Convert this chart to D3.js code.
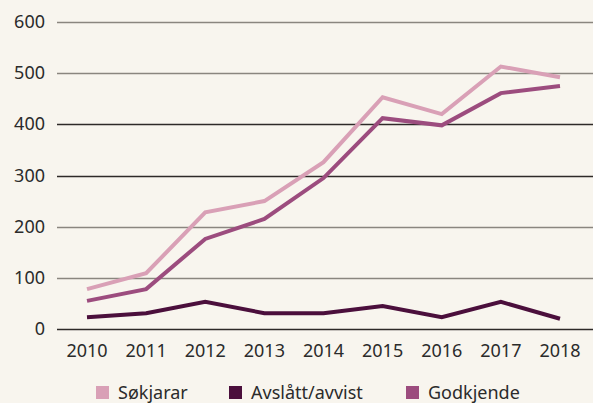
<!DOCTYPE html>
<html>
<head>
<meta charset="utf-8">
<script src="https://cdn.jsdelivr.net/npm/d3@7"></script>
<style>
  body { margin: 0; background: #f8f5ee; }
  svg { display: block; font-family: "Noto Sans", sans-serif; }
</style>
</head>
<body>
<div id="chart"></div>
<script>
const years = [2010, 2011, 2012, 2013, 2014, 2015, 2016, 2017, 2018]
const sokjarar = [78, 109, 228, 250, 326, 453, 420, 513, 492]
const avslatt = [23, 31, 53, 31, 31, 45, 23, 53, 20]
const godkjende = [55, 78, 176, 215, 295, 412, 398, 461, 475]
const yTicks = [0, 100, 200, 300, 400, 500, 600]
const seriesNames = ['Søkjarar', 'Avslått/avvist', 'Godkjende']
const seriesColors = ['#d9a0b6', '#4b0f3c', '#9c4c7e']

const width = 593, height = 403
const svg = d3.select('#chart').append('svg')
    .attr('width', width)
    .attr('height', height)

svg.append('rect').attr('width', width).attr('height', height).attr('fill', '#f8f5ee')

const x = d3.scalePoint().domain(years).range([87, 560])
const y = d3.scaleLinear().domain([0, 600]).range([329, 22])

// gridlines
const grid = svg.append('g')
grid.selectAll('line')
    .data(yTicks)
    .enter()
    .append('line')
    .attr('x1', 57)
    .attr('x2', width)
    .attr('y1', d => Math.round(y(d)) + 0.5)
    .attr('y2', d => Math.round(y(d)) + 0.5)
    .attr('stroke', d => (d === 0 || d === 300 || d === 400) ? '#2e2a28' : '#8a867f')
    .attr('stroke-width', 1.3)

// y labels
svg.append('g').selectAll('text')
    .data(yTicks)
    .enter()
    .append('text')
    .attr('x', 45)
    .attr('y', d => y(d) + 6)
    .attr('text-anchor', 'end')
    .attr('font-size', 18)
    .attr('fill', '#2b2b2b')
    .text(d => d)

// x labels
svg.append('g').selectAll('text')
    .data(years)
    .enter()
    .append('text')
    .attr('x', d => x(d))
    .attr('y', 357)
    .attr('text-anchor', 'middle')
    .attr('font-size', 18)
    .attr('fill', '#2b2b2b')
    .text(d => d)

const line = d3.line()
    .x((d, i) => x(years[i]))
    .y(d => y(d))

const allSeries = [sokjarar, avslatt, godkjende]
svg.append('g').selectAll('path')
    .data(allSeries)
    .enter()
    .append('path')
    .attr('d', d => line(d))
    .attr('fill', 'none')
    .attr('stroke', (d, i) => seriesColors[i])
    .attr('stroke-width', 4)
    .attr('stroke-linejoin', 'miter')

// legend
const legendX = [96, 229, 406]
const legend = svg.append('g')
seriesNames.forEach((name, i) => {
    legend.append('rect')
        .attr('x', legendX[i])
        .attr('y', 386)
        .attr('width', 13)
        .attr('height', 13)
        .attr('fill', seriesColors[i])
    legend.append('text')
        .attr('x', legendX[i] + 22)
        .attr('y', 399)
        .attr('font-size', 18)
        .attr('fill', '#2b2b2b')
        .text(name)
})
</script>
</body>
</html>
